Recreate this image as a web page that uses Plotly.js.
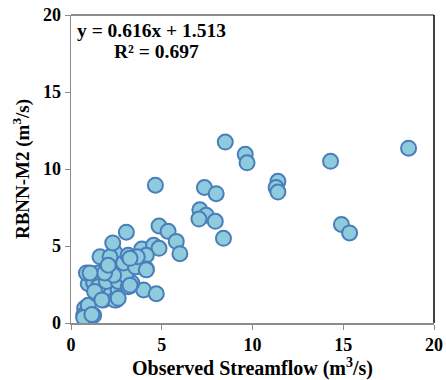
<!DOCTYPE html>
<html>
<head>
<meta charset="utf-8">
<script src="https://cdn.plot.ly/plotly-3.0.1.min.js"></script>
<style>html,body{margin:0;padding:0;background:#fff;}#chart{width:446px;height:380px;}</style>
</head>
<body>
<div id="chart"></div>
<script>
const observed = [18.6,14.3,8.5,9.6,9.7,11.4,11.3,11.4,7.35,8.0,7.1,7.45,7.05,7.95,8.4,14.9,15.35,4.65,3.05,4.85,5.35,5.8,6.0,3.9,4.55,4.85,4.15,3.6,4.15,3.25,4.0,4.7,2.7,3.25,2.3,2.4,2.15,2.5,3.0,0.75,0.7,1.25,0.95,0.95,0.85,1.5,1.6,2.15,2.25,1.8,2.05,2.4,2.6,1.4,1.25,1.5,1.95,2.6,3.15,3.35,3.0,2.35,2.9,3.15,3.55,3.65,1.85,2.05,2.3,3.25,4.15,1.05,1.3,1.7,2.6,3.25,0.7,1.15];
const predicted = [11.35,10.5,11.75,10.95,10.4,9.2,8.8,8.5,8.8,8.4,7.35,7.0,6.75,6.6,5.5,6.4,5.85,8.95,5.9,6.3,5.95,5.3,4.5,4.8,5.05,4.85,4.4,3.65,3.5,4.3,2.15,1.9,2.25,2.4,3.45,4.6,4.0,1.5,2.7,0.95,0.5,0.5,1.15,2.55,3.25,3.25,4.3,4.3,3.55,1.5,1.9,1.5,2.15,1.9,2.6,2.35,2.7,2.7,2.35,2.6,3.1,3.1,3.9,4.4,3.65,4.3,3.25,3.75,5.2,4.2,3.45,3.25,2.05,1.5,1.6,2.45,0.35,0.55];
const xTicks = [0,5,10,15,20];
const yTicks = [0,5,10,15,20];
const eqText = 'y = 0.616x + 1.513';
const r2Text = 'R² = 0.697';

const font = {family: '"Liberation Serif", "Times New Roman", serif', color: '#000'};

Plotly.newPlot('chart', [{
  x: observed, y: predicted, type: 'scatter', mode: 'markers',
  marker: {size: 15, color: '#8ecbdc', line: {color: '#4a7ebb', width: 2}},
  hoverinfo: 'skip'
}], {
  width: 446, height: 380,
  margin: {l: 71, r: 12, t: 15, b: 57},
  paper_bgcolor: '#fff', plot_bgcolor: '#fff',
  showlegend: false,
  xaxis: {
    range: [0, 20], tickvals: xTicks, ticktext: xTicks.map(String),
    showgrid: false, zeroline: false, showline: true, linecolor: '#8c8c8c', linewidth: 1.5,
    ticks: 'outside', ticklen: 5, tickcolor: '#8c8c8c', tickwidth: 1,
    tickfont: Object.assign({size: 18, weight: 'bold'}, font),
    title: {text: '<b>Observed Streamflow (m<sup>3</sup>/s)</b>', font: Object.assign({size: 20}, font), standoff: 0}
  },
  yaxis: {
    range: [0, 20], tickvals: yTicks, ticktext: yTicks.map(String),
    showgrid: false, zeroline: false, showline: true, linecolor: '#8c8c8c', linewidth: 1.5,
    ticks: 'outside', ticklen: 5, tickcolor: '#8c8c8c', tickwidth: 1,
    tickfont: Object.assign({size: 18, weight: 'bold'}, font),
    title: {text: '<b>RBNN-M2 (m<sup>3</sup>/s)</b>', font: Object.assign({size: 19}, font), standoff: 8}
  },
  shapes: [
    {type: 'line', xref: 'paper', yref: 'paper', x0: 0, x1: 1, y0: 1, y1: 1, line: {color: '#8c8c8c', width: 2}},
    {type: 'line', xref: 'paper', yref: 'paper', x0: 1, x1: 1, y0: 0, y1: 1, line: {color: '#000', width: 1.5}}
  ],
  annotations: [
    {xref: 'paper', yref: 'paper', x: 0.012, y: 0.951, xanchor: 'left', yanchor: 'middle', showarrow: false,
     text: '<b>' + eqText + '</b>', font: Object.assign({size: 19.5}, font)},
    {xref: 'paper', yref: 'paper', x: 0.112, y: 0.883, xanchor: 'left', yanchor: 'middle', showarrow: false,
     text: '<b>' + r2Text + '</b>', font: Object.assign({size: 19.5}, font)}
  ]
}, {displayModeBar: false, staticPlot: true});
</script>
</body>
</html>
